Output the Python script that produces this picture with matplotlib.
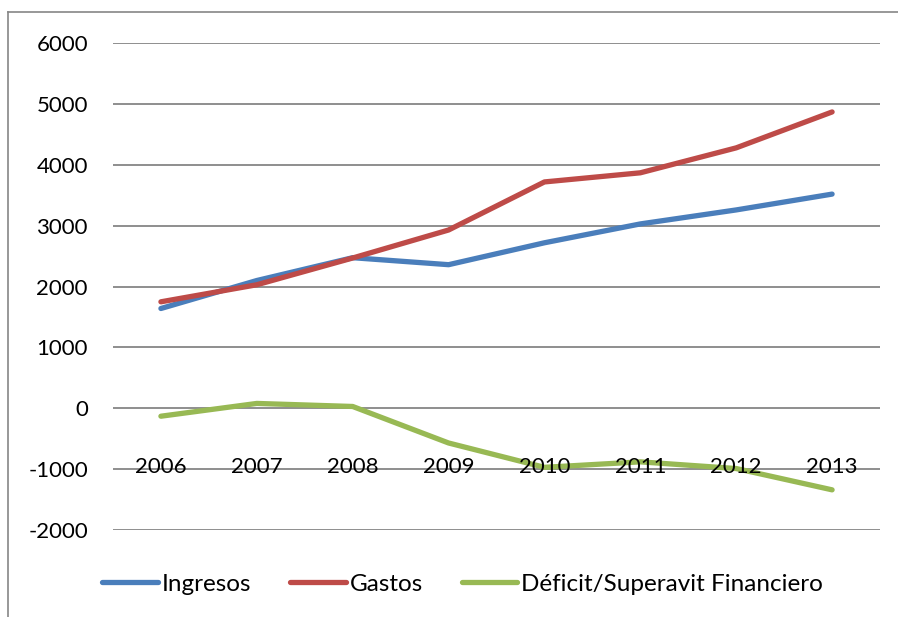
import matplotlib.pyplot as plt
from matplotlib.lines import Line2D

# datos
years = ["2006", "2007", "2008", "2009", "2010", "2011", "2012", "2013"]
ingresos = [1640, 2100, 2475, 2360, 2720, 3030, 3260, 3520]
gastos = [1750, 2030, 2470, 2930, 3720, 3870, 4280, 4870]
deficit = [-130, 80, 30, -570, -970, -880, -990, -1340]
yticks = [-2000, -1000, 0, 1000, 2000, 3000, 4000, 5000, 6000]

plt.rcParams['font.family'] = ['Lato', 'DejaVu Sans']

fig = plt.figure(figsize=(8.98, 6.17), dpi=100)
ax = fig.add_axes([0.1258, 0.141, 0.98 - 0.1258, 0.930 - 0.141])

x = list(range(len(years)))
ax.plot(x, ingresos, color="#4A7EBB", lw=3.8, label="Ingresos", solid_capstyle="round")
ax.plot(x, gastos, color="#BE4B48", lw=3.8, label="Gastos", solid_capstyle="round")
ax.plot(x, deficit, color="#98B954", lw=3.8, label="Déficit/Superavit Financiero",
        solid_capstyle="round")

ax.set_xlim(-0.5, len(years) - 0.5)
ax.set_ylim(-2000, 6000)
ax.set_yticks(yticks)
ax.set_yticklabels([str(v) for v in yticks], fontsize=16)
ax.tick_params(axis="y", length=0, pad=18)
ax.set_xticks([])
ax.grid(axis="y", color="#868686", lw=1.3)
ax.set_axisbelow(True)
for s in ax.spines.values():
    s.set_visible(False)

# etiquetas de categoria junto al eje (cruza en 0)
for i, yr in enumerate(years):
    ax.text(i, -960, yr, ha="center", va="center", fontsize=16)

fig.legend(loc="center", bbox_to_anchor=(0.515, 0.053), ncol=3, frameon=False,
           fontsize=17.5, handlelength=2.3, handletextpad=0.15, columnspacing=1.6)

# marco del grafico
fig.add_artist(Line2D([8 / 898, 8 / 898], [0, 1 - 12 / 617], color="#868686", lw=1.2))
fig.add_artist(Line2D([8 / 898, 1], [1 - 12 / 617, 1 - 12 / 617], color="#868686", lw=1.2))

fig.savefig("out.png", dpi=100)
